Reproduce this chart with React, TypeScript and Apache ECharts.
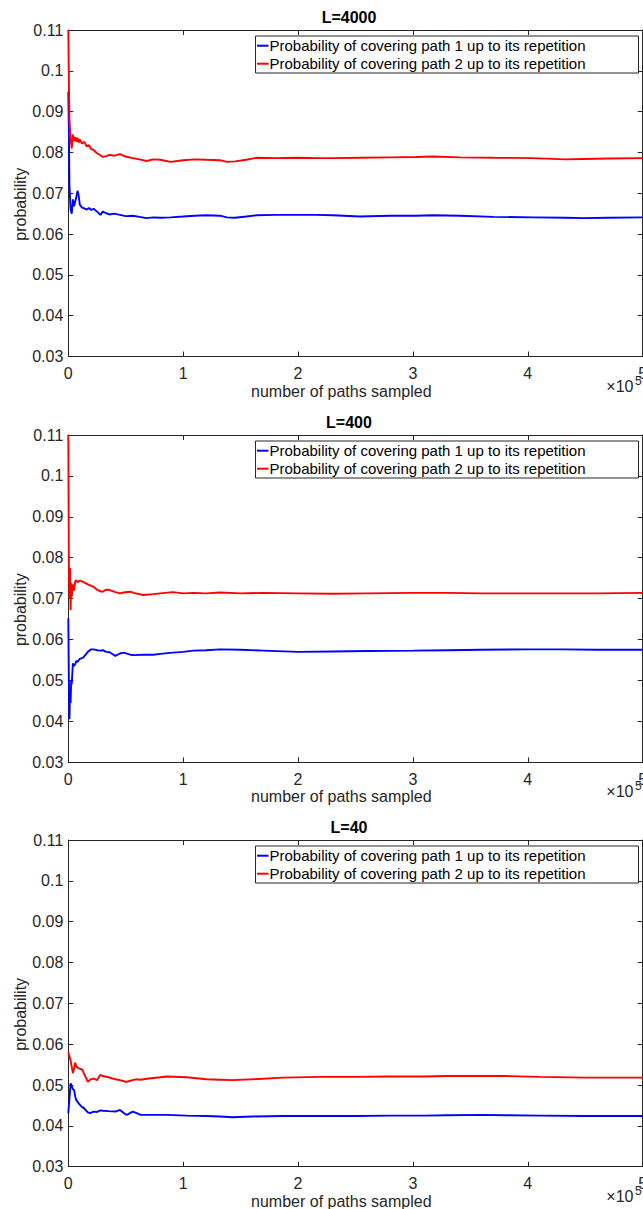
import React, { useEffect, useRef } from "react";
import * as echarts from "echarts";

// ---------- data (x in units of 1e5 paths) ----------
const panelTitles = ["L=4000", "L=400", "L=40"];
const seriesNames = [
  "Probability of covering path 1 up to its repetition",
  "Probability of covering path 2 up to its repetition",
];
const xTickValues = [0, 1, 2, 3, 4, 5];
const yMin = 0.03;
const yMax = 0.11;
const yStep = 0.01;

const xL4000 = [0, 0.005, 0.01, 0.02, 0.03, 0.04, 0.05, 0.06, 0.07, 0.08, 0.09, 0.1, 0.12, 0.14, 0.16, 0.18, 0.2, 0.22, 0.25, 0.28, 0.3, 0.33, 0.36, 0.4, 0.45, 0.5, 0.56, 0.62, 0.68, 0.74, 0.8, 0.89, 1.0, 1.1, 1.2, 1.32, 1.38, 1.45, 1.55, 1.64, 1.8, 2.0, 2.16, 2.3, 2.54, 2.8, 3.03, 3.17, 3.41, 3.7, 4.04, 4.33, 4.48, 4.7, 5.0];
const path1L4000 = [0.0949, 0.085, 0.072, 0.066, 0.065, 0.0685, 0.0668, 0.068, 0.069, 0.0706, 0.0695, 0.0672, 0.0665, 0.0663, 0.066, 0.0664, 0.0659, 0.0662, 0.0655, 0.0647, 0.0655, 0.0651, 0.0648, 0.065, 0.0647, 0.0644, 0.0645, 0.0642, 0.0639, 0.0641, 0.064, 0.0641, 0.0643, 0.0645, 0.0646, 0.0645, 0.0641, 0.064, 0.0643, 0.0646, 0.0647, 0.0647, 0.0647, 0.0646, 0.0643, 0.0645, 0.0645, 0.0646, 0.0645, 0.0642, 0.0641, 0.064, 0.0639, 0.064, 0.0641];
const path2L4000 = [0.11, 0.098, 0.088, 0.0835, 0.081, 0.0844, 0.0828, 0.0838, 0.0826, 0.0836, 0.0824, 0.0832, 0.0822, 0.0826, 0.0815, 0.0818, 0.0808, 0.0806, 0.0798, 0.0793, 0.0789, 0.0791, 0.0794, 0.0792, 0.0796, 0.079, 0.0786, 0.0783, 0.0779, 0.0783, 0.0782, 0.0777, 0.0781, 0.0783, 0.0782, 0.0781, 0.0777, 0.0778, 0.0782, 0.0787, 0.0786, 0.0787, 0.0786, 0.0786, 0.0787, 0.0788, 0.0789, 0.079, 0.0788, 0.0787, 0.0786, 0.0783, 0.0784, 0.0785, 0.0786];

const xL400 = [0, 0.005, 0.01, 0.015, 0.02, 0.025, 0.03, 0.04, 0.05, 0.06, 0.07, 0.08, 0.1, 0.13, 0.17, 0.2, 0.22, 0.25, 0.28, 0.3, 0.33, 0.36, 0.41, 0.45, 0.48, 0.54, 0.57, 0.65, 0.74, 0.8, 0.91, 1.0, 1.09, 1.2, 1.32, 1.5, 1.7, 2.0, 2.3, 2.6, 3.0, 3.3, 3.6, 4.0, 4.3, 4.6, 5.0];
const path1L400 = [0.0652, 0.05, 0.0405, 0.048, 0.0445, 0.0501, 0.049, 0.0542, 0.0535, 0.054, 0.0548, 0.0545, 0.0553, 0.0556, 0.057, 0.0576, 0.0576, 0.0574, 0.0573, 0.0574, 0.057, 0.0569, 0.056, 0.0566, 0.0568, 0.0563, 0.0562, 0.0563, 0.0563, 0.0565, 0.0568, 0.057, 0.0573, 0.0574, 0.0576, 0.0575, 0.0573, 0.057, 0.0571, 0.0572, 0.0573, 0.0574, 0.0575, 0.0576, 0.0576, 0.0575, 0.0575];
const path2L400 = [0.11, 0.0786, 0.07, 0.0775, 0.0672, 0.0738, 0.0705, 0.0735, 0.072, 0.0742, 0.0745, 0.074, 0.0744, 0.0741, 0.0735, 0.0731, 0.0729, 0.0722, 0.0718, 0.0717, 0.0722, 0.0721, 0.0716, 0.0713, 0.0715, 0.0717, 0.0714, 0.0709, 0.0711, 0.0713, 0.0716, 0.0713, 0.0714, 0.0713, 0.0715, 0.0713, 0.0714, 0.0713, 0.0712, 0.0713, 0.0714, 0.0714, 0.0713, 0.0713, 0.0713, 0.0713, 0.0714];

const xL40 = [0, 0.02, 0.04, 0.05, 0.06, 0.07, 0.09, 0.12, 0.13, 0.17, 0.19, 0.22, 0.25, 0.28, 0.3, 0.35, 0.41, 0.45, 0.5, 0.51, 0.56, 0.59, 0.63, 0.7, 0.8, 0.86, 1.03, 1.2, 1.32, 1.43, 1.6, 1.87, 2.19, 2.5, 2.8, 3.1, 3.3, 3.6, 3.8, 4.1, 4.5, 4.8, 5.0];
const path1L40 = [0.0431, 0.0504, 0.049, 0.0488, 0.0472, 0.0463, 0.0455, 0.0446, 0.0445, 0.0433, 0.0431, 0.0435, 0.0434, 0.0438, 0.0437, 0.0436, 0.0435, 0.0439, 0.0428, 0.0427, 0.0435, 0.0432, 0.0427, 0.0427, 0.0427, 0.0427, 0.0425, 0.0424, 0.0423, 0.0421, 0.0423, 0.0424, 0.0424, 0.0424, 0.0425, 0.0425, 0.0426, 0.0427, 0.0426, 0.0425, 0.0424, 0.0424, 0.0424];
const path2L40 = [0.058, 0.056, 0.0529, 0.054, 0.0555, 0.0545, 0.0541, 0.0538, 0.0532, 0.0508, 0.0513, 0.0516, 0.0512, 0.0525, 0.0522, 0.0519, 0.0514, 0.0512, 0.0508, 0.0508, 0.0512, 0.0514, 0.0513, 0.0516, 0.0519, 0.0521, 0.0519, 0.0514, 0.0513, 0.0512, 0.0514, 0.0518, 0.052, 0.052, 0.0521, 0.0521, 0.0522, 0.0522, 0.0522, 0.052, 0.0518, 0.0518, 0.0518];

const panelX = [xL4000, xL400, xL40];
const panelPath1 = [path1L4000, path1L400, path1L40];
const panelPath2 = [path2L4000, path2L400, path2L40];

// ---------- layout ----------
const FONT = '"Liberation Sans", Arial, Helvetica, sans-serif';
const TXT = "#262626";
const gridLeft = 68.3;
const gridWidth = 574.4;
const gridTops = [30, 435, 840];
const gridHeights = [326.5, 327.3, 326.7];

function zip(xs: number[], ys: number[]) {
  return xs.map((x, i) => [x, ys[i]]);
}

function buildOption() {
  const grids: any[] = [];
  const xAxes: any[] = [];
  const yAxes: any[] = [];
  const series: any[] = [];
  const graphics: any[] = [];
  const axisLine = { show: true, onZero: false, lineStyle: { color: TXT, width: 1 } };
  const tick = { show: true, inside: true, length: 5, lineStyle: { color: TXT, width: 1 } };

  for (let i = 0; i < 3; i++) {
    const top = gridTops[i];
    const h = gridHeights[i];
    const bottom = top + h;
    grids.push({ left: gridLeft, top, width: gridWidth, height: h, containLabel: false, outerBoundsMode: "none" });
    const xBase = { type: "value", gridIndex: i, min: xTickValues[0], max: xTickValues[xTickValues.length - 1], interval: 1, splitLine: { show: false }, axisLine, axisTick: tick };
    xAxes.push({ ...xBase, position: "bottom", axisLabel: { color: TXT, fontSize: 16, fontFamily: FONT, margin: 9, showMaxLabel: true, showMinLabel: true } });
    xAxes.push({ ...xBase, position: "top", axisLabel: { show: false } });
    const yBase = { type: "value", gridIndex: i, min: yMin, max: yMax, interval: yStep, splitLine: { show: false }, axisLine, axisTick: tick };
    yAxes.push({ ...yBase, position: "left", axisLabel: { color: TXT, fontSize: 16, fontFamily: FONT, margin: 5, formatter: (v: number) => String(+v.toFixed(2)) } });
    yAxes.push({ ...yBase, position: "right", axisLabel: { show: false } });

    series.push({
      type: "line", name: seriesNames[0], xAxisIndex: 2 * i, yAxisIndex: 2 * i,
      data: zip(panelX[i], panelPath1[i]), showSymbol: false, symbol: "none",
      lineStyle: { color: "#0000ff", width: 1.9 }, itemStyle: { color: "#0000ff" }, clip: true,
    });
    series.push({
      type: "line", name: seriesNames[1], xAxisIndex: 2 * i, yAxisIndex: 2 * i,
      data: zip(panelX[i], panelPath2[i]), showSymbol: false, symbol: "none",
      lineStyle: { color: "#ff0000", width: 1.9 }, itemStyle: { color: "#ff0000" }, clip: true,
    });

    // title
    graphics.push({ type: "text", x: 349, y: top - 12.5, style: { text: panelTitles[i], fill: "#000", fontSize: 16, fontWeight: "bold", fontFamily: FONT, align: "center", verticalAlign: "middle" } });
    // y label
    graphics.push({ type: "text", x: 20.8, y: top + h / 2 + 11, rotation: Math.PI / 2, style: { text: "probability", fill: TXT, fontSize: 16, fontFamily: FONT, align: "center", verticalAlign: "middle" } });
    // x label
    graphics.push({ type: "text", x: 341.3, y: bottom + 34.5, style: { text: "number of paths sampled", fill: TXT, fontSize: 16, fontFamily: FONT, align: "center", verticalAlign: "middle" } });
    // exponent
    graphics.push({ type: "text", x: 633.5, y: bottom + 29.5, style: { text: "\u00d710", fill: TXT, fontSize: 16, fontFamily: FONT, align: "right", verticalAlign: "middle" } });
    graphics.push({ type: "text", x: 635, y: bottom + 24, style: { text: "5", fill: TXT, fontSize: 12, fontFamily: FONT, align: "left", verticalAlign: "middle" } });
    // legend box
    graphics.push({ type: "rect", shape: { x: 255.5, y: top + 6, width: 383, height: 37 }, style: { fill: "#fff", stroke: TXT, lineWidth: 1 }, z: 100 });
    const entries = [
      { name: seriesNames[0], color: "#0000ff", dy: 15.7 },
      { name: seriesNames[1], color: "#ff0000", dy: 33.7 },
    ];
    entries.forEach((e) => {
      graphics.push({ type: "line", shape: { x1: 257, y1: top + e.dy, x2: 268.5, y2: top + e.dy }, style: { stroke: e.color, lineWidth: 2 }, z: 101 });
      graphics.push({ type: "text", x: 269.5, y: top + e.dy, style: { text: e.name, fill: "#000", fontSize: 15, fontFamily: FONT, align: "left", verticalAlign: "middle" }, z: 101 });
    });
  }

  return {
    animation: false,
    backgroundColor: "#ffffff",
    grid: grids,
    xAxis: xAxes,
    yAxis: yAxes,
    series,
    graphic: { elements: graphics },
  };
}

export default function App() {
  const ref = useRef<HTMLDivElement>(null);
  useEffect(() => {
    if (!ref.current) return;
    const chart = echarts.init(ref.current, null, { renderer: "svg" });
    chart.setOption(buildOption() as any);
    return () => chart.dispose();
  }, []);
  return (
    <div
      ref={ref}
      style={{ position: "fixed", left: 0, top: 0, width: 643, height: 1209, background: "#fff" }}
    />
  );
}
